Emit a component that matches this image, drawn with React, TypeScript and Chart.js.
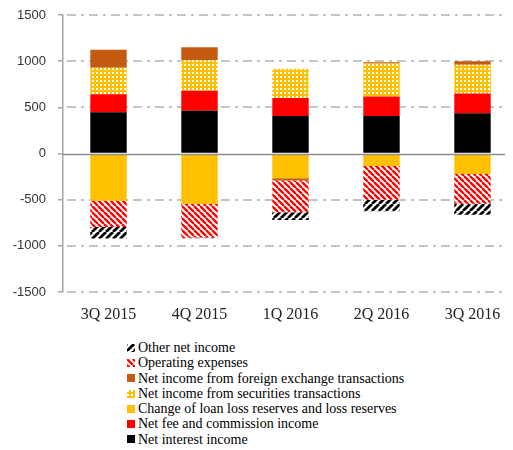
import React, { useEffect, useRef } from 'react';
import { Chart, registerables } from 'chart.js';

Chart.register(...registerables);

const categories = ['3Q 2015', '4Q 2015', '1Q 2016', '2Q 2016', '3Q 2016'];
const netInterestIncome = [446, 464, 407, 407, 436];
const netFeeCommission = [197, 215, 193, 211, 214];
const loanLossReserves = [-511, -546, -268, -136, -221];
const securitiesTransactions = [286, 332, 318, 357, 311];
const foreignExchange = [196, 139, -25, 14, 39];
const operatingExpenses = [-285, -365, -343, -364, -322];
const otherNetIncome = [-125, -8, -85, -125, -121];

const yMin = -1500;
const yMax = 1500;
const yStep = 500;

type Kind = 'solid-black' | 'solid-red' | 'solid-yellow' | 'checker' | 'solid-brown' | 'red-hatch' | 'black-hatch';

function makeTile(kind: Kind): HTMLCanvasElement {
  const c = document.createElement('canvas');
  const ctx = c.getContext('2d')!;
  if (kind === 'checker') {
    c.width = 4; c.height = 4;
    ctx.fillStyle = '#FFC000';
    ctx.fillRect(0, 0, 4, 4);
    ctx.fillStyle = '#FFFFFF';
    ctx.fillRect(0, 0, 2, 2);
  } else if (kind === 'red-hatch' || kind === 'black-hatch') {
    const s = kind === 'red-hatch' ? 6 : 7;
    c.width = s; c.height = s;
    ctx.fillStyle = '#FFFFFF';
    ctx.fillRect(0, 0, s, s);
    ctx.strokeStyle = kind === 'red-hatch' ? '#FF0000' : '#000000';
    ctx.lineWidth = kind === 'red-hatch' ? 2.3 : 2.8;
    ctx.beginPath();
    for (const x of [-s, 0, s]) {
      if (kind === 'red-hatch') {
        ctx.moveTo(x, 0); ctx.lineTo(x + s, s);
      } else {
        ctx.moveTo(x, s); ctx.lineTo(x + s, 0);
      }
    }
    ctx.stroke();
  } else {
    c.width = 4; c.height = 4;
    ctx.fillStyle = kind === 'solid-black' ? '#000000' : kind === 'solid-red' ? '#FF0000' : kind === 'solid-yellow' ? '#FFC000' : '#C55A11';
    ctx.fillRect(0, 0, 4, 4);
  }
  return c;
}

const seriesDefs: { label: string; data: number[]; kind: Kind }[] = [
  { label: 'Net interest income', data: netInterestIncome, kind: 'solid-black' },
  { label: 'Net fee and commission income', data: netFeeCommission, kind: 'solid-red' },
  { label: 'Change of loan loss reserves and loss reserves', data: loanLossReserves, kind: 'solid-yellow' },
  { label: 'Net income from securities transactions', data: securitiesTransactions, kind: 'checker' },
  { label: 'Net income from foreign exchange transactions', data: foreignExchange, kind: 'solid-brown' },
  { label: 'Operating expenses', data: operatingExpenses, kind: 'red-hatch' },
  { label: 'Other net income', data: otherNetIncome, kind: 'black-hatch' },
];

const gridPlugin = {
  id: 'dashGrid',
  beforeDatasetsDraw(chart: any) {
    const { ctx, chartArea, scales } = chart;
    const y = scales.y;
    ctx.save();
    ctx.strokeStyle = '#c4c4c4';
    ctx.lineWidth = 2;
    ctx.setLineDash([9, 5, 3, 5]);
    y.ticks.forEach((t: any) => {
      if (t.value === 0) return;
      const py = Math.round(y.getPixelForValue(t.value));
      ctx.beginPath();
      ctx.moveTo(chartArea.left + 4, py);
      ctx.lineTo(chartArea.right, py);
      ctx.stroke();
    });
    ctx.restore();
  },
  afterDatasetsDraw(chart: any) {
    const { ctx, chartArea, scales } = chart;
    const y = scales.y;
    const py = Math.round(y.getPixelForValue(0)) + 0.5;
    ctx.save();
    ctx.strokeStyle = '#8c8c8c';
    ctx.lineWidth = 1.5;
    ctx.beginPath();
    ctx.moveTo(chartArea.left, py);
    ctx.lineTo(chartArea.right, py);
    ctx.stroke();
    ctx.restore();
  },
};

export default function App() {
  const canvasRef = useRef<HTMLCanvasElement | null>(null);
  const tiles = seriesDefs.map((s) => makeTile(s.kind));

  useEffect(() => {
    document.documentElement.style.overflow = 'hidden';
    document.body.style.overflow = 'hidden';
    const canvas = canvasRef.current!;
    const ctx = canvas.getContext('2d')!;
    const datasets = seriesDefs.map((s, i) => ({
      label: s.label,
      data: s.data,
      backgroundColor: ctx.createPattern(tiles[i], 'repeat') as any,
      borderWidth: 0,
      categoryPercentage: 1,
      barPercentage: 0.4,
    }));
    const chart = new Chart(canvas, {
      type: 'bar',
      data: { labels: categories, datasets },
      plugins: [gridPlugin],
      options: {
        animation: false,
        responsive: false,
        maintainAspectRatio: false,
        layout: { padding: { top: 7, right: 0, bottom: 0, left: 0 } },
        plugins: { legend: { display: false }, tooltip: { enabled: false } },
        scales: {
          x: {
            stacked: true,
            grid: { display: false, drawTicks: false },
            border: { display: false },
            ticks: { color: '#222', font: { family: 'Liberation Serif', size: 16 }, padding: 13 },
            afterFit: (s: any) => { s.height = 41; s.paddingLeft = 0; s.paddingRight = 0; },
          },
          y: {
            stacked: true,
            min: yMin,
            max: yMax,
            ticks: {
              stepSize: yStep,
              color: '#333',
              font: { family: 'Liberation Sans', size: 13 },
              padding: 12,
              callback: (v: any) => String(v),
            },
            grid: { drawOnChartArea: false, drawTicks: true, tickLength: 5, color: '#a6a6a6', lineWidth: 1.5 },
            border: { display: true, color: '#a6a6a6', width: 1.5 },
            afterFit: (s: any) => { s.width = 55; s.paddingTop = 0; s.paddingBottom = 0; },
          },
        },
      },
    });
    return () => chart.destroy();
  }, []);

  const legendOrder = [...seriesDefs.keys()].reverse();

  return (
    <div style={{ position: 'relative', width: 510, height: 440 }}>
      <canvas ref={canvasRef} width={510} height={325} style={{ display: 'block', width: 510, height: 325 }} />
      <div style={{ position: 'absolute', left: 119, top: 332, fontFamily: 'Liberation Serif', fontSize: 14, lineHeight: '15.3px', color: '#000' }}>
        {legendOrder.map((i) => (
          <div key={i} style={{ display: 'flex', alignItems: 'center', height: 15.3, whiteSpace: 'nowrap' }}>
            <span
              style={{
                display: 'inline-block',
                width: 8,
                height: 8,
                marginRight: 3,
                backgroundImage: `url(${tiles[i].toDataURL()})`,
                backgroundRepeat: 'repeat',
              }}
            />
            <span>{seriesDefs[i].label}</span>
          </div>
        ))}
      </div>
    </div>
  );
}
